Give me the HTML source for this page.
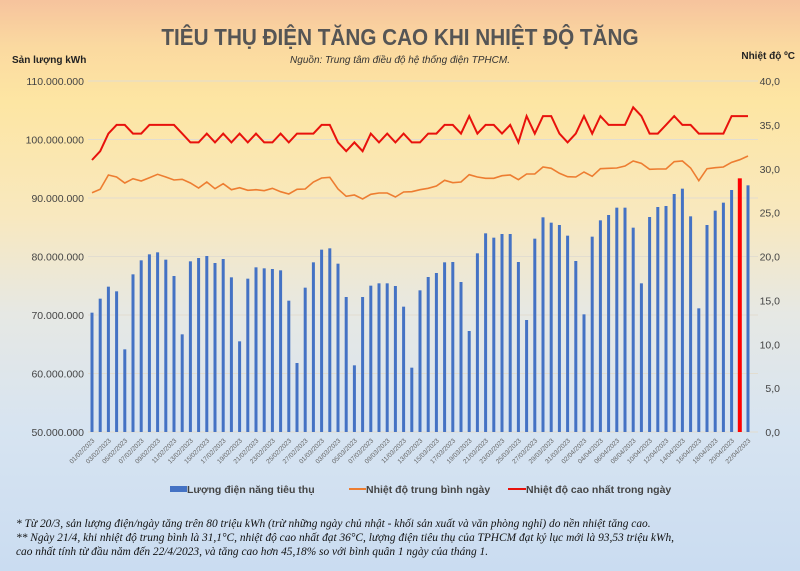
<!DOCTYPE html>
<html><head><meta charset="utf-8"><style>
html,body{margin:0;padding:0}
body{width:800px;height:571px;overflow:hidden;background:linear-gradient(180deg,#f6c39d 0%,#fbd9a0 8%,#fde6a3 18%,#f8e8bf 38%,#e6e8e4 55%,#d7e4f1 75%,#cadcf1 100%);font-family:"Liberation Sans",sans-serif}
svg{position:absolute;left:0;top:0}
</style></head><body>
<svg width="800" height="571" xmlns="http://www.w3.org/2000/svg" font-family="Liberation Sans, sans-serif">
<text x="400" y="45" text-anchor="middle" font-size="23" font-weight="bold" fill="#555" transform="translate(400 0) scale(0.9 1) translate(-400 0)">TIÊU THỤ ĐIỆN TĂNG CAO KHI NHIỆT ĐỘ TĂNG</text>
<text x="400" y="63" text-anchor="middle" font-size="10" font-style="italic" fill="#333">Nguồn: Trung tâm điều độ hệ thống điện TPHCM.</text>
<text x="12" y="63" font-size="10" font-weight="bold" fill="#222">Sản lượng kWh</text>
<text x="795" y="59" text-anchor="end" font-size="10" font-weight="bold" fill="#222">Nhiệt độ ºC</text>
<g stroke="#e2ddd0" stroke-width="1">
<line x1="88" x2="758" y1="81" y2="81"/><line x1="88" x2="758" y1="139.5" y2="139.5"/><line x1="88" x2="758" y1="198" y2="198"/><line x1="88" x2="758" y1="256.5" y2="256.5"/><line x1="88" x2="758" y1="315" y2="315"/><line x1="88" x2="758" y1="373.5" y2="373.5"/><line x1="88" x2="758" y1="432" y2="432"/>
</g>
<g font-size="10.5" fill="#444" text-anchor="end">
<text x="84" y="85">110.000.000</text><text x="84" y="143.5">100.000.000</text><text x="84" y="202">90.000.000</text><text x="84" y="260.5">80.000.000</text><text x="84" y="319">70.000.000</text><text x="84" y="377.5">60.000.000</text><text x="84" y="436">50.000.000</text>
</g>
<g font-size="10.5" fill="#444" text-anchor="end">
<text x="780" y="85">40,0</text><text x="780" y="128.9">35,0</text><text x="780" y="172.8">30,0</text><text x="780" y="216.6">25,0</text><text x="780" y="260.5">20,0</text><text x="780" y="304.4">15,0</text><text x="780" y="348.3">10,0</text><text x="780" y="392.1">5,0</text><text x="780" y="436">0,0</text>
</g>
<g id="bars"></g>
<polyline id="avg" fill="none" stroke="#ed7d31" stroke-width="1.6"/>
<polyline id="max" fill="none" stroke="#e8120c" stroke-width="2"/>
<g font-size="6.5" fill="#666" text-anchor="end">
<text transform="translate(95 441) rotate(-45)">01/02/2023</text>
<text transform="translate(111.4 441) rotate(-45)">03/02/2023</text>
<text transform="translate(127.8 441) rotate(-45)">05/02/2023</text>
<text transform="translate(144.2 441) rotate(-45)">07/02/2023</text>
<text transform="translate(160.6 441) rotate(-45)">09/02/2023</text>
<text transform="translate(177 441) rotate(-45)">11/02/2023</text>
<text transform="translate(193.4 441) rotate(-45)">13/02/2023</text>
<text transform="translate(209.8 441) rotate(-45)">15/02/2023</text>
<text transform="translate(226.2 441) rotate(-45)">17/02/2023</text>
<text transform="translate(242.6 441) rotate(-45)">19/02/2023</text>
<text transform="translate(259 441) rotate(-45)">21/02/2023</text>
<text transform="translate(275.4 441) rotate(-45)">23/02/2023</text>
<text transform="translate(291.8 441) rotate(-45)">25/02/2023</text>
<text transform="translate(308.2 441) rotate(-45)">27/02/2023</text>
<text transform="translate(324.6 441) rotate(-45)">01/03/2023</text>
<text transform="translate(341 441) rotate(-45)">03/03/2023</text>
<text transform="translate(357.4 441) rotate(-45)">05/03/2023</text>
<text transform="translate(373.8 441) rotate(-45)">07/03/2023</text>
<text transform="translate(390.2 441) rotate(-45)">09/03/2023</text>
<text transform="translate(406.6 441) rotate(-45)">11/03/2023</text>
<text transform="translate(423 441) rotate(-45)">13/03/2023</text>
<text transform="translate(439.4 441) rotate(-45)">15/03/2023</text>
<text transform="translate(455.8 441) rotate(-45)">17/03/2023</text>
<text transform="translate(472.2 441) rotate(-45)">19/03/2023</text>
<text transform="translate(488.6 441) rotate(-45)">21/03/2023</text>
<text transform="translate(505 441) rotate(-45)">23/03/2023</text>
<text transform="translate(521.4 441) rotate(-45)">25/03/2023</text>
<text transform="translate(537.8 441) rotate(-45)">27/03/2023</text>
<text transform="translate(554.2 441) rotate(-45)">29/03/2023</text>
<text transform="translate(570.6 441) rotate(-45)">31/03/2023</text>
<text transform="translate(587 441) rotate(-45)">02/04/2023</text>
<text transform="translate(603.4 441) rotate(-45)">04/04/2023</text>
<text transform="translate(619.8 441) rotate(-45)">06/04/2023</text>
<text transform="translate(636.2 441) rotate(-45)">08/04/2023</text>
<text transform="translate(652.6 441) rotate(-45)">10/04/2023</text>
<text transform="translate(669 441) rotate(-45)">12/04/2023</text>
<text transform="translate(685.4 441) rotate(-45)">14/04/2023</text>
<text transform="translate(701.8 441) rotate(-45)">16/04/2023</text>
<text transform="translate(718.2 441) rotate(-45)">18/04/2023</text>
<text transform="translate(734.6 441) rotate(-45)">20/04/2023</text>
<text transform="translate(751 441) rotate(-45)">22/04/2023</text>
</g>
<rect x="170" y="486" width="17" height="6" fill="#4472c4"/>
<text x="187" y="493" font-size="10.5" font-weight="bold" fill="#444">Lượng điện năng tiêu thụ</text>
<line x1="349" x2="366" y1="489" y2="489" stroke="#ed7d31" stroke-width="2"/>
<text x="366" y="493" font-size="10.5" font-weight="bold" fill="#444">Nhiệt độ trung bình ngày</text>
<line x1="508" x2="526" y1="489" y2="489" stroke="#e8120c" stroke-width="2"/>
<text x="526" y="493" font-size="10.5" font-weight="bold" fill="#444">Nhiệt độ cao nhất trong ngày</text>
<g font-family="Liberation Serif, serif" font-style="italic" font-size="11.4" fill="#111">
<text x="16" y="527">* Từ 20/3, sản lượng điện/ngày tăng trên 80 triệu kWh (trừ những ngày chủ nhật - khối sản xuất và văn phòng nghỉ) do nền nhiệt tăng cao.</text>
<text x="16" y="541">** Ngày 21/4, khi nhiệt độ trung bình là 31,1°C, nhiệt độ cao nhất đạt 36°C, lượng điện tiêu thụ của TPHCM đạt kỷ lục mới là 93,53 triệu kWh,</text>
<text x="16" y="555">cao nhất tính từ đầu năm đến 22/4/2023, và tăng cao hơn 45,18% so với bình quân 1 ngày của tháng 1.</text>
</g>
</svg>
<script>
var t1=[668,626,590,604,778,553,511,493,487,509,558,733,514,504,498,519,507,562,754,566,532,535,537,541,632,819,593,517,479,475,521,621,826,621,587,580,580,588,650,833,601];
var t2=[561,549,517,516,576,723,490,430,443,432,432,516,690,446,382,398,405,437,513,673,440,391,375,353,353,413,580,381,351,348,312,296,379,655,405,362,338,300,265,286];
var tops=t1.concat(t2);
var mx=[31,32,34,35,35,34,34,35,35,35,35,34,33,33,34,33,34,33,34,33,34,33,33,34,33,34,34,34,35,35,33,32,33,32,34,33,34,33,34,33,33,
34,34,35,35,34,36,34,35,35,34,35,33,36,34,36,36,34,33,34,36,34,36,35,35,35,37,36,34,34,35,36,35,35,34,34,34,34,36,36,36];
var a1=[308,298,255,261,279,266,273,263,253,261,270,268,279,294,276,296,281,299,293,301,299,302,295,305,312,298,297,276,264,262,297,319,315,327,313,309,309,321,306,305,299];
var a2=[295,288,271,278,276,254,261,265,265,257,255,269,252,252,231,235,250,260,261,246,259,236,235,234,228,213,220,238,237,237,215,213,234,272,236,233,231,217,209,198];
var av=a1.concat(a2);
var ns="http://www.w3.org/2000/svg",g=document.getElementById('bars'),pm=[],pa=[];
for(var i=0;i<81;i++){var x=92+i*8.2;var y=90+tops[i]/3;var r=document.createElementNS(ns,'rect');
var red=(i==79);r.setAttribute('x',x-(red?2:1.5));r.setAttribute('width',red?4:3);r.setAttribute('y',y);r.setAttribute('height',432-y);r.setAttribute('fill',red?'#ff0000':'#4472c4');g.appendChild(r);
pm.push(x.toFixed(1)+','+(432-mx[i]*8.775).toFixed(1));pa.push(x.toFixed(1)+','+(90+av[i]/3).toFixed(1));}
document.getElementById('max').setAttribute('points',pm.join(' '));
document.getElementById('avg').setAttribute('points',pa.join(' '));
</script>
</body></html>
